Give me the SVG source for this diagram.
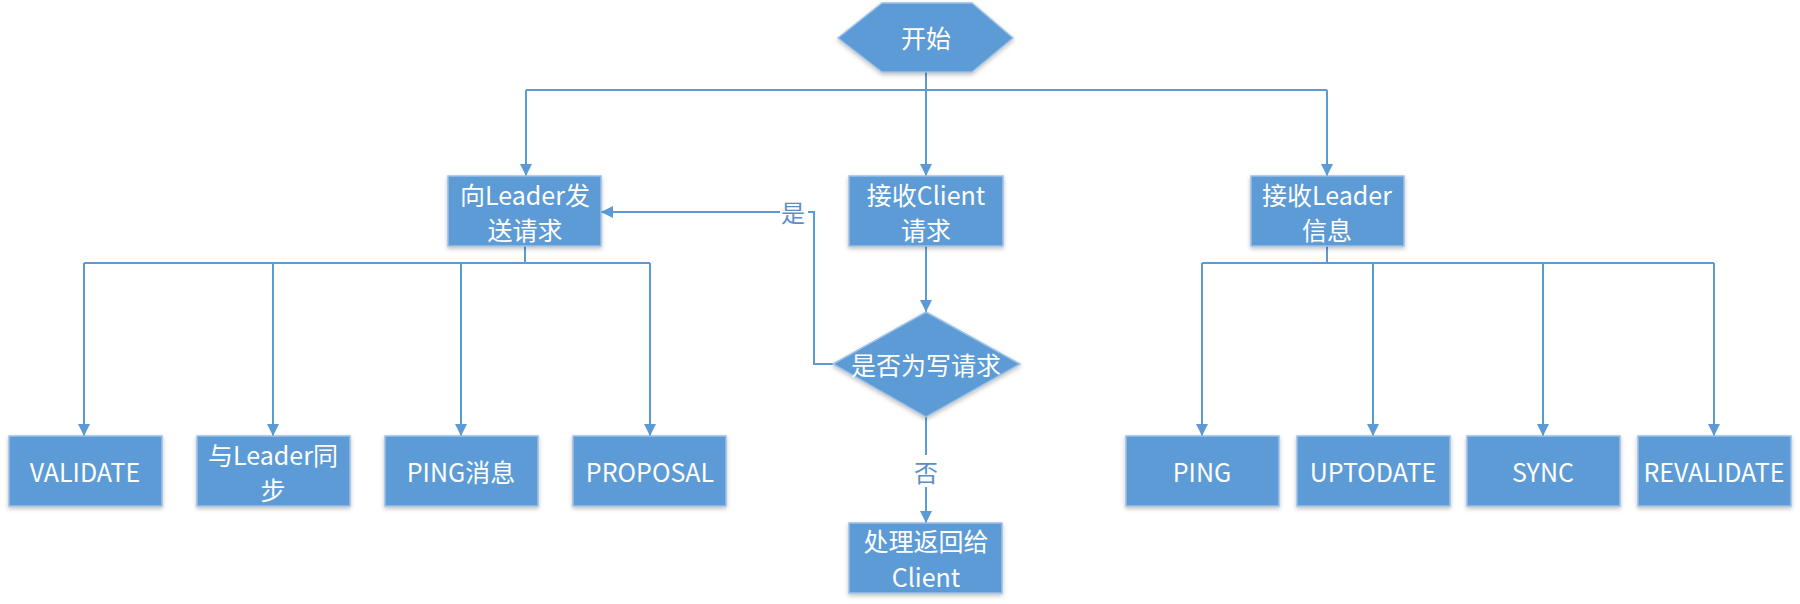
<svg xmlns="http://www.w3.org/2000/svg" width="1800" height="604" viewBox="0 0 1800 604">
<defs>
<style>
.node{fill:#5B9BD5;stroke:#9CC0E6;stroke-width:1.5;filter:url(#sh)}
.t{font-family:"Noto Sans CJK SC","Noto Sans",sans-serif;font-size:25px;fill:#ffffff;text-anchor:middle;dominant-baseline:central}
.lbl{font-family:"Noto Sans CJK SC","Noto Sans",sans-serif;font-size:24px;fill:#5B8EC9;text-anchor:middle;dominant-baseline:central}
.c{fill:none;stroke:#5B9BD5;stroke-width:2}
</style>
<filter id="sh" x="-10%" y="-10%" width="120%" height="130%">
<feDropShadow dx="0" dy="2" stdDeviation="2" flood-color="#000" flood-opacity="0.25"/>
</filter>
<marker id="ar" viewBox="0 0 12 12" refX="12" refY="6" markerWidth="12" markerHeight="12" markerUnits="userSpaceOnUse" orient="auto">
<path d="M0,0 L12,6 L0,12 z" fill="#5B9BD5"/>
</marker>
</defs>
<g id="connectors">
<path class="c" d="M926,72 V176" marker-end="url(#ar)"/>
<path class="c" d="M526,90 H1327"/>
<path class="c" d="M526,90 V176" marker-end="url(#ar)"/>
<path class="c" d="M1327,90 V176" marker-end="url(#ar)"/>
<path class="c" d="M525,246 V263"/>
<path class="c" d="M84,263 H650"/>
<path class="c" d="M84,263 V436" marker-end="url(#ar)"/>
<path class="c" d="M273,263 V436" marker-end="url(#ar)"/>
<path class="c" d="M461,263 V436" marker-end="url(#ar)"/>
<path class="c" d="M650,263 V436" marker-end="url(#ar)"/>
<path class="c" d="M1327,246 V263"/>
<path class="c" d="M1202,263 H1714"/>
<path class="c" d="M1202,263 V436" marker-end="url(#ar)"/>
<path class="c" d="M1373,263 V436" marker-end="url(#ar)"/>
<path class="c" d="M1543,263 V436" marker-end="url(#ar)"/>
<path class="c" d="M1714,263 V436" marker-end="url(#ar)"/>
<path class="c" d="M926,246 V312" marker-end="url(#ar)"/>
<path class="c" d="M833,364 H814 V212 H601" marker-end="url(#ar)"/>
<rect x="780" y="198" width="28" height="28" fill="#ffffff"/>
<text class="lbl" x="793" y="211">是</text>
<path class="c" d="M926,417 V523" marker-end="url(#ar)"/>
<rect x="912" y="455" width="28" height="32" fill="#ffffff"/>
<text class="lbl" x="926" y="471">否</text>
</g>
<g id="start">
<polygon class="node" points="838,38 882,3 972,3 1013,38 972,72 882,72"/>
<text class="t" x="926" y="37">开始</text>
</g>
<g id="send-leader">
<rect class="node" x="448" y="176" width="153" height="70"/>
<text class="t" x="525" y="194">向Leader发</text>
<text class="t" x="525" y="229">送请求</text>
</g>
<g id="recv-client">
<rect class="node" x="849" y="176" width="154" height="70"/>
<text class="t" x="926" y="194">接收Client</text>
<text class="t" x="926" y="229">请求</text>
</g>
<g id="recv-leader">
<rect class="node" x="1251" y="176" width="153" height="70"/>
<text class="t" x="1327" y="194">接收Leader</text>
<text class="t" x="1327" y="229">信息</text>
</g>
<g id="is-write">
<polygon class="node" points="926,312 1020,364 926,417 833,364"/>
<text class="t" x="926" y="364">是否为写请求</text>
</g>
<g id="process-return">
<rect class="node" x="849" y="523" width="153" height="70"/>
<text class="t" x="926" y="540">处理返回给</text>
<text class="t" x="926" y="576">Client</text>
</g>
<g id="validate">
<rect class="node" x="9" y="436" width="153" height="70"/>
<text class="t" x="85" y="471">VALIDATE</text>
</g>
<g id="sync-leader">
<rect class="node" x="197" y="436" width="153" height="70"/>
<text class="t" x="273" y="454">与Leader同</text>
<text class="t" x="273" y="489">步</text>
</g>
<g id="ping-msg">
<rect class="node" x="385" y="436" width="153" height="70"/>
<text class="t" x="461" y="471">PING消息</text>
</g>
<g id="proposal">
<rect class="node" x="573" y="436" width="153" height="70"/>
<text class="t" x="650" y="471">PROPOSAL</text>
</g>
<g id="ping">
<rect class="node" x="1126" y="436" width="153" height="70"/>
<text class="t" x="1202" y="471">PING</text>
</g>
<g id="uptodate">
<rect class="node" x="1297" y="436" width="153" height="70"/>
<text class="t" x="1373" y="471">UPTODATE</text>
</g>
<g id="sync">
<rect class="node" x="1467" y="436" width="153" height="70"/>
<text class="t" x="1543" y="471">SYNC</text>
</g>
<g id="revalidate">
<rect class="node" x="1638" y="436" width="153" height="70"/>
<text class="t" x="1714" y="471">REVALIDATE</text>
</g>
</svg>
